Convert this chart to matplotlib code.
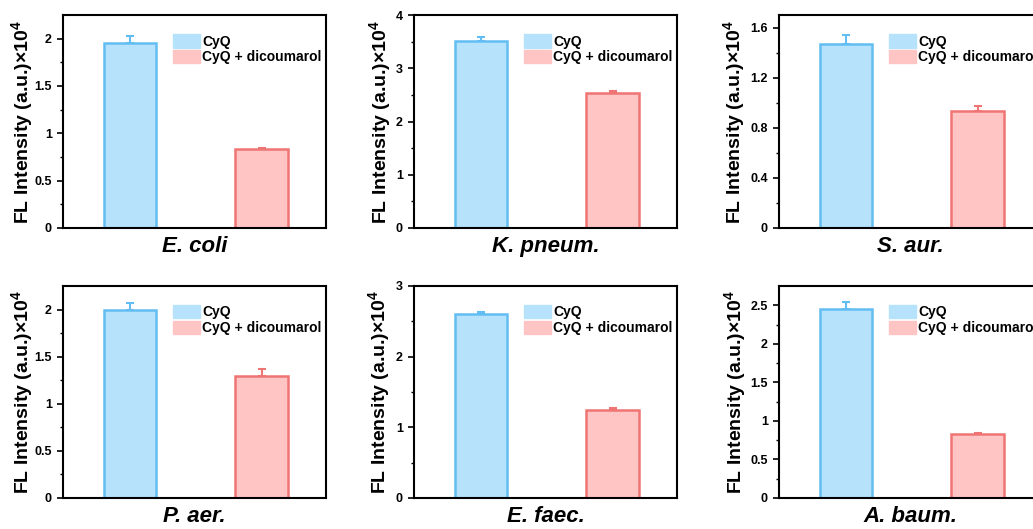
import numpy as np
from matplotlib import pyplot as plt

# Data (x10^4 a.u.)
species = ['E. coli', 'K. pneum.', 'S. aur.', 'P. aer.', 'E. faec.', 'A. baum.']
cyq = [1.95, 3.51, 1.465, 2.00, 2.60, 2.45]
cyq_err = [0.08, 0.07, 0.075, 0.07, 0.03, 0.09]
dicou = [0.83, 2.54, 0.93, 1.29, 1.25, 0.83]
dicou_err = [0.02, 0.04, 0.04, 0.08, 0.02, 0.015]
ylims = [2.25, 4.0, 1.7, 2.25, 3.0, 2.75]
yticks = [[0, 0.5, 1, 1.5, 2], [0, 1, 2, 3, 4], [0, 0.4, 0.8, 1.2, 1.6],
          [0, 0.5, 1, 1.5, 2], [0, 1, 2, 3], [0, 0.5, 1, 1.5, 2, 2.5]]
yticklabels = [['0', '0.5', '1', '1.5', '2'], ['0', '1', '2', '3', '4'],
               ['0', '0.4', '0.8', '1.2', '1.6'], ['0', '0.5', '1', '1.5', '2'],
               ['0', '1', '2', '3'], ['0', '0.5', '1', '1.5', '2', '2.5']]
labels = ['CyQ', 'CyQ + dicoumarol']

blue_fill, blue_edge = '#b7e2fb', '#62bdf2'
pink_fill, pink_edge = '#ffc5c5', '#ef7474'

plt.rcParams['font.family'] = ['Liberation Sans', 'DejaVu Sans']
plt.rcParams['font.weight'] = 'bold'
plt.rcParams['mathtext.fontset'] = 'custom'
plt.rcParams['mathtext.rm'] = 'Liberation Sans'
plt.rcParams['mathtext.bf'] = 'Liberation Sans:bold'
plt.rcParams['mathtext.default'] = 'bf'

W, H = 1033, 529
fig = plt.figure(figsize=(W / 100, H / 100), dpi=100)

lefts = [63, 414, 779]
tops = [15, 286]
bottoms = [228, 498]
width = 263
# gap (px) between y label and left spine, per panel
label_gap = [28, 21, 32, 28, 22, 31]

for i in range(6):
    r, c = divmod(i, 3)
    ax = fig.add_axes([lefts[c] / W, 1 - bottoms[r] / H,
                       width / W, (bottoms[r] - tops[r]) / H])

    ax.bar(1, cyq[i], width=0.4, color=blue_fill, edgecolor=blue_edge,
           linewidth=1.8, label=labels[0], zorder=2)
    ax.bar(2, dicou[i], width=0.4, color=pink_fill, edgecolor=pink_edge,
           linewidth=1.8, label=labels[1], zorder=2)
    ax.errorbar(1, cyq[i], yerr=[[0], [cyq_err[i]]], color=blue_edge,
                capsize=3, elinewidth=1.5, capthick=1.5, zorder=1)
    ax.errorbar(2, dicou[i], yerr=[[0], [dicou_err[i]]], color=pink_edge,
                capsize=3, elinewidth=1.5, capthick=1.5, zorder=1)

    ax.set_xlim(0.49, 2.49)
    ax.set_ylim(0, ylims[i])
    ax.set_xticks([])
    ax.set_yticks(yticks[i])
    ax.set_yticklabels(yticklabels[i], fontsize=9, fontweight='bold')
    ax.set_yticks(np.array(yticks[i][:-1]) + (yticks[i][1] - yticks[i][0]) / 2, minor=True)
    ax.tick_params(axis='y', which='major', direction='out', length=4, width=1.2, pad=4)
    ax.tick_params(axis='y', which='minor', direction='out', length=2.5, width=1.0)
    for s in ax.spines.values():
        s.set_linewidth(1.5)

    ax.set_ylabel('FL Intensity (a.u.)×10$^4$', fontsize=14, fontweight='bold')
    ax.yaxis.set_label_coords(-label_gap[i] / width, 0.5)
    ax.set_xlabel(species[i], fontsize=16, fontweight='bold', style='italic', labelpad=6)

    h1 = plt.Rectangle((0, 0), 1, 1, color=blue_fill)
    h2 = plt.Rectangle((0, 0), 1, 1, color=pink_fill)
    ax.legend([h1, h2], labels, loc='upper left', bbox_to_anchor=(0.418, 0.91),
              frameon=False, handlelength=1.95, handleheight=1.1,
              handletextpad=0.15, labelspacing=0.1, borderpad=0, borderaxespad=0,
              prop={'weight': 'bold', 'size': 10})

fig.savefig('out.png', dpi=100)
